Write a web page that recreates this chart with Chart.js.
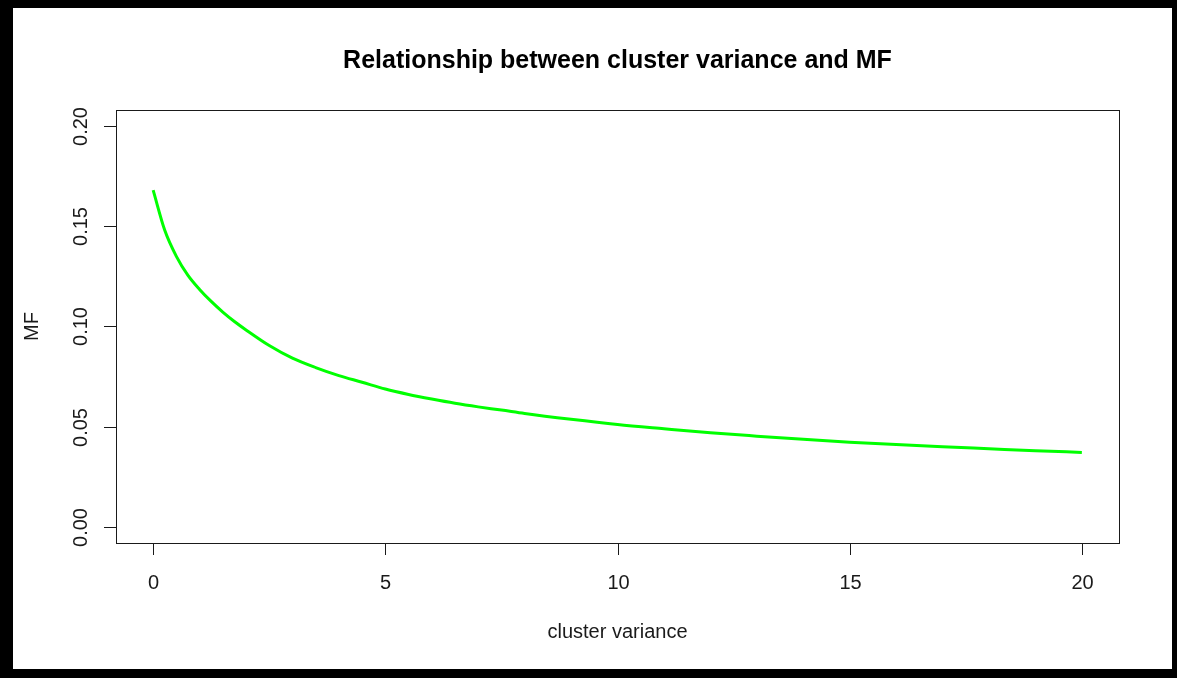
<!DOCTYPE html>
<html>
<head>
<meta charset="utf-8">
<title>Relationship between cluster variance and MF</title>
<script src="https://cdn.jsdelivr.net/npm/chart.js@4.4.0/dist/chart.umd.min.js"></script>
<style>
  html, body { margin: 0; padding: 0; background: #fff; }
  canvas { display: block; }
</style>
</head>
<body>
<canvas id="mfChart" width="1177" height="678"></canvas>
<script>
// valores
const varianceValues = [0, 0.25, 0.5, 0.75, 1, 1.25, 1.5, 1.75, 2, 2.5, 3, 3.5, 4, 4.5, 5, 5.5, 6, 6.5, 7, 7.5, 8, 9, 10, 11, 12, 13, 14, 15, 16, 17, 18, 19, 20];
const mfValues = [0.168, 0.148, 0.135, 0.1255, 0.1185, 0.1125, 0.1072, 0.1025, 0.0983, 0.0905, 0.0842, 0.0795, 0.0755, 0.0722, 0.0688, 0.0661, 0.0638, 0.0617, 0.0599, 0.0583, 0.0566, 0.0537, 0.0511, 0.0490, 0.0470, 0.0453, 0.0437, 0.0423, 0.0411, 0.0400, 0.0390, 0.0380, 0.0372];

const xTickValues = [0, 5, 10, 15, 20];
const xTickLabels = ['0', '5', '10', '15', '20'];
const yTickValues = [0, 0.05, 0.1, 0.15, 0.2];
const yTickLabels = ['0.00', '0.05', '0.10', '0.15', '0.20'];

const titleText = 'Relationship between cluster variance and MF';
const xTitle = 'cluster variance';
const yTitle = 'MF';

const FONT = '"Liberation Sans", Arial, sans-serif';
const INK = '#1a1a1a';

// marco negro + ejes estilo R
const rPlotPlugin = {
  id: 'rPlot',
  beforeDraw(chart) {
    const ctx = chart.ctx;
    ctx.save();
    ctx.fillStyle = '#000';
    ctx.fillRect(0, 0, chart.width, chart.height);
    ctx.fillStyle = '#fff';
    ctx.fillRect(13, 8, chart.width - 18, chart.height - 17);
    ctx.restore();
  },
  afterDraw(chart) {
    const ctx = chart.ctx;
    const area = chart.chartArea;
    const xs = chart.scales.x;
    const ys = chart.scales.y;
    const tick = 12;

    ctx.save();
    ctx.strokeStyle = INK;
    ctx.fillStyle = INK;
    ctx.lineWidth = 1;

    // caja
    ctx.strokeRect(Math.round(area.left) + 0.5, Math.round(area.top) + 0.5,
      Math.round(area.right - area.left), Math.round(area.bottom - area.top));

    // eje x
    ctx.font = '20px ' + FONT;
    ctx.textAlign = 'center';
    ctx.textBaseline = 'alphabetic';
    xTickValues.forEach((v, i) => {
      const px = Math.round(xs.getPixelForValue(v)) + 0.5;
      ctx.beginPath();
      ctx.moveTo(px, area.bottom);
      ctx.lineTo(px, area.bottom + tick);
      ctx.stroke();
      ctx.fillText(xTickLabels[i], px, 589);
    });

    // eje y (etiquetas rotadas)
    yTickValues.forEach((v, i) => {
      const py = Math.round(ys.getPixelForValue(v)) + 0.5;
      ctx.beginPath();
      ctx.moveTo(area.left, py);
      ctx.lineTo(area.left - tick, py);
      ctx.stroke();
      ctx.save();
      ctx.translate(86.5, py);
      ctx.rotate(-Math.PI / 2);
      ctx.fillText(yTickLabels[i], 0, 0);
      ctx.restore();
    });

    const midX = (area.left + area.right) / 2;
    const midY = (area.top + area.bottom) / 2;

    ctx.fillText(xTitle, midX, 638);

    ctx.save();
    ctx.translate(37.5, midY);
    ctx.rotate(-Math.PI / 2);
    ctx.fillText(yTitle, 0, 0);
    ctx.restore();

    ctx.font = 'bold 25px ' + FONT;
    ctx.fillStyle = '#000';
    ctx.fillText(titleText, midX, 68);
    ctx.restore();
  }
};

const points = varianceValues.map((v, i) => ({ x: v, y: mfValues[i] }));

new Chart(document.getElementById('mfChart'), {
  type: 'line',
  data: {
    datasets: [
      {
        label: 'MF',
        data: points,
        borderColor: '#00ff00',
        borderWidth: 3,
        pointRadius: 0,
        fill: false,
        cubicInterpolationMode: 'monotone',
      },
    ],
  },
  options: {
    responsive: false,
    animation: false,
    layout: {
      padding: { left: 116, top: 110, right: 58, bottom: 135 },
    },
    plugins: {
      legend: { display: false },
      tooltip: { enabled: false },
      title: { display: false },
    },
    scales: {
      x: {
        type: 'linear',
        display: false,
        min: -0.8,
        max: 20.8,
      },
      y: {
        type: 'linear',
        display: false,
        min: -0.008,
        max: 0.208,
      },
    },
  },
  plugins: [rPlotPlugin],
});
</script>
</body>
</html>
